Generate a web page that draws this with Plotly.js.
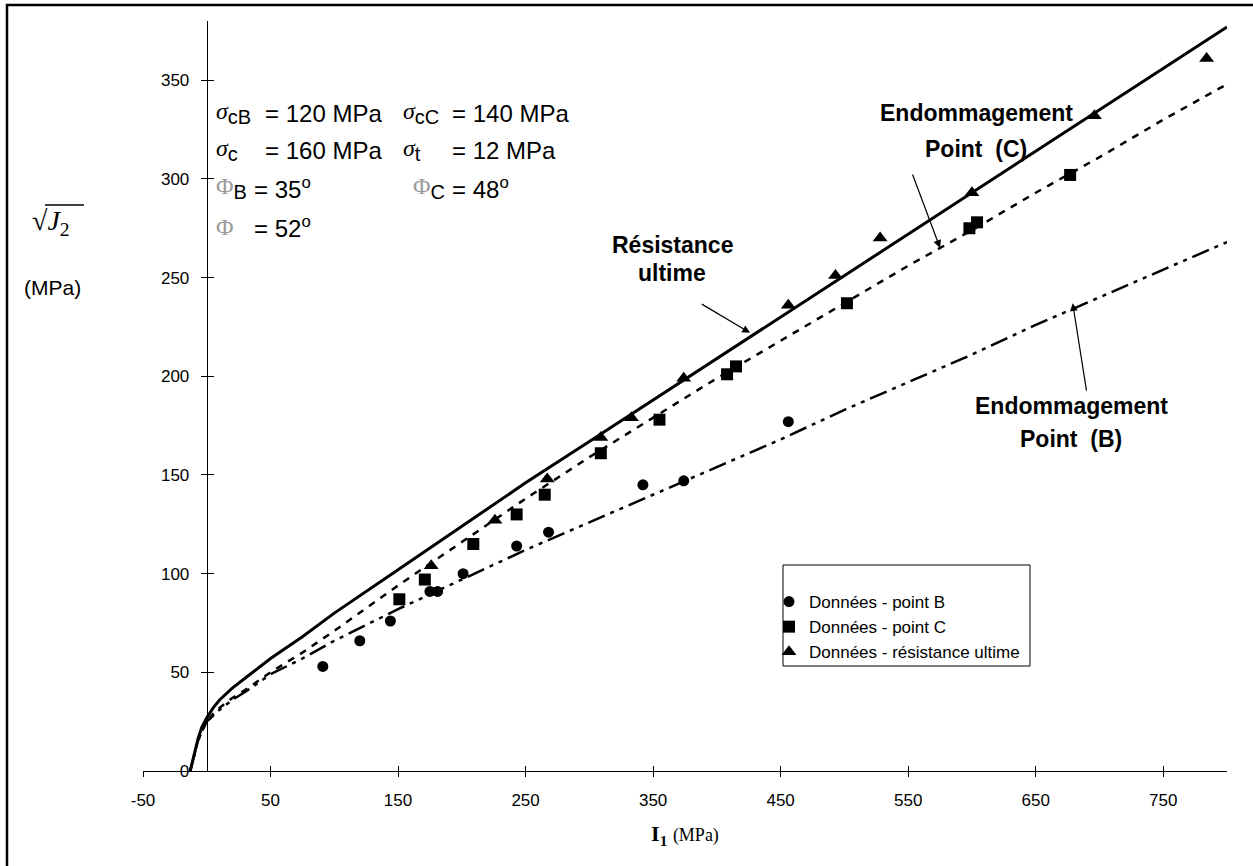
<!DOCTYPE html>
<html><head><meta charset="utf-8">
<script src="https://cdn.plot.ly/plotly-3.0.1.min.js"></script>
<style>html,body{margin:0;padding:0;background:#fff;}#chart{width:1253px;height:866px;}</style>
</head><body><div id="chart"></div>
<script>
// ---- data ----
const bX = [91,120,144,175,181,201,243,268,342,374,456];
const bY = [53,66,76,91,91,100,114,121,145,147,177];
const cX = [151,171,209,243,265,309,355,408,415,502,598,604,677];
const cY = [87,97,115,130,140,161,178,201,205,237,275,278,302];
const uX = [176,226,267,309,333,374,456,493,528,600,696,784];
const uY = [104,127,148,169,179,199,236,251,270,293,332,361];

const curveX  = [-13,-10,-7,-4,0,5,10,20,30,50,75,100,150,200,250,300,350,400,450,500,550,600,650,700,750,800];
const ultY    = [0,8,16,22,27,32,36,42,47,57,68,80,102,124,146,167,188,209,230,251,272,293,314,335,356,377];
const endCY   = [0,8,15,20,25,29,32,37,41,50,60,71,94,116,138,159,179,199,218,237,256,274,293,311,330,348];
const endBY   = [0,8,15,20,25,28,31,36,40,49,57,66,82,97,112,126,140,154,168,183,197,211,226,240,254,268];

const xTicks = [-50,50,150,250,350,450,550,650,750];
const yTicks = [0,50,100,150,200,250,300,350];
const legendNames = ['Données - point B','Données - point C','Données - résistance ultime'];

// ---- layout helpers (pixel -> paper) ----
const L=143, R=1227, T=21, B=771;
const px = v => (v-L)/(R-L);
const py = v => (B-v)/(B-T);
const SANS = 'Liberation Sans, Arial, sans-serif';
const SERIF = 'Liberation Serif, Times New Roman, serif';

const traces = [
  {x:curveX, y:ultY, mode:'lines', line:{color:'#000', width:3}, showlegend:false, hoverinfo:'skip'},
  {x:curveX, y:endCY, mode:'lines', line:{color:'#000', width:2.5, dash:'7px,7px'}, showlegend:false, hoverinfo:'skip'},
  {x:curveX, y:endBY, mode:'lines', line:{color:'#000', width:2.5, dash:'18px,6px,4px,6px,4px,6px'}, showlegend:false, hoverinfo:'skip'},
  {x:bX, y:bY, mode:'markers', name:legendNames[0], marker:{symbol:'circle', size:11, color:'#000'}},
  {x:cX, y:cY, mode:'markers', name:legendNames[1], marker:{symbol:'square', size:12, color:'#000'}},
  {x:uX, y:uY, mode:'markers', name:legendNames[2], marker:{symbol:'triangle-up', size:13, color:'#000'}},
  {x:[], y:[], xaxis:'x2', yaxis:'y2', showlegend:false, hoverinfo:'skip'}
];

const ann = [];
function txt(x, y, text, size, extra) {
  ann.push(Object.assign({xref:'paper', yref:'paper', x:px(x), y:py(y), xanchor:'left', yanchor:'middle',
    text:text, showarrow:false, font:{family:SANS, size:size, color:'#000'}}, extra||{}));
}
const sig = '<span style="font-family:Liberation Serif"><i>σ</i></span>';
const phi = '<span style="font-family:Liberation Serif;color:#9a9a9a">Φ</span>';
const sub = s => '<sub><span style="font-size:20px">' + s + '</span></sub>';
txt(214, 113, sig + sub('cB'), 24);
txt(263, 113, '= 120 MPa', 24);
txt(401, 113, sig + sub('cC'), 24);
txt(450, 113, '= 140 MPa', 24);
txt(214, 150, sig + sub('c'), 24);
txt(263, 150, '= 160 MPa', 24);
txt(401, 150, sig + sub('t'), 24);
txt(450, 150, '= 12 MPa', 24);
txt(214, 188, phi + sub('B'), 24);
txt(252, 188, '= 35<sup>o</sup>', 24);
txt(411, 188, phi + sub('C'), 24);
txt(450, 188, '= 48<sup>o</sup>', 24);
txt(214, 227, phi, 24);
txt(252, 227, '= 52<sup>o</sup>', 24);

// y axis title
txt(30, 222, '√<i>J</i><sub>2</sub>', 28, {font:{family:SERIF, size:28, color:'#000'}});
txt(22, 287, '(MPa)', 21);

// curve labels
function ctr(x, y, text) {
  ann.push({xref:'paper', yref:'paper', x:px(x), y:py(y), xanchor:'center', yanchor:'middle',
    text:text, showarrow:false, font:{family:SANS, size:23, color:'#000'}});
}
ctr(672, 245, '<b>Résistance</b>');
ctr(672, 273, '<b>ultime</b>');
ctr(976, 113, '<b>Endommagement</b>');
ctr(976, 149, '<b>Point  (C)</b>');
ctr(1071, 406, '<b>Endommagement</b>');
ctr(1071, 439, '<b>Point  (B)</b>');

// arrows (tip on curve, tail near label)
function arrow(tx, ty, ax, ay) {
  ann.push({x:tx, y:ty, xref:'x', yref:'y', ax:ax, ay:ay, axref:'x', ayref:'y', text:'',
    showarrow:true, arrowhead:2, arrowsize:1.3, arrowwidth:1.2, arrowcolor:'#000', font:{size:12}});
}
arrow(426, 222, 387, 237);
arrow(575, 265, 553, 303);
arrow(679, 237, 690, 192);

const layout = {
  width:1253, height:866,
  margin:{l:L, r:1253-R, t:T, b:866-B, pad:0},
  paper_bgcolor:'#fff', plot_bgcolor:'#fff',
  font:{family:SANS, size:17, color:'#000'},
  showlegend:true,
  legend:{x:px(769), y:py(584), xanchor:'left', yanchor:'top', bgcolor:'rgba(0,0,0,0)', borderwidth:0,
          font:{family:SANS, size:17, color:'#000'}, tracegroupgap:0},
  xaxis:{range:[-50,800], tickvals:xTicks, ticktext:xTicks.map(String), ticks:'outside', ticklen:5, tickwidth:1,
         tickcolor:'#000', showline:true, linecolor:'#000', linewidth:1, showgrid:false, zeroline:false,
         ticklabelstandoff:9, tickfont:{family:SANS, size:17},
         title:{text:'<b>I<sub>1</sub></b> <span style="font-size:18px">(MPa)</span>', standoff:16,
                font:{family:SERIF, size:22, color:'#000'}}},
  xaxis2:{overlaying:'x', anchor:'y', range:[-50,800], tickvals:xTicks, ticks:'inside', ticklen:5, tickwidth:1,
          tickcolor:'#000', showticklabels:false, showline:false, showgrid:false, zeroline:false},
  yaxis:{range:[0,380], tickvals:yTicks, ticktext:yTicks.map(String), anchor:'free', position:px(206.7),
         ticks:'outside', ticklen:6, tickwidth:1, tickcolor:'#000', showline:true, linecolor:'#000', linewidth:1,
         showgrid:false, zeroline:false, ticklabelstandoff:8, tickfont:{family:SANS, size:17}},
  yaxis2:{overlaying:'y', anchor:'free', position:px(206.7), range:[0,380], tickvals:yTicks, ticks:'inside',
          ticklen:6, tickwidth:1, tickcolor:'#000', showticklabels:false, showline:false, showgrid:false, zeroline:false},
  annotations:ann,
  shapes:[
    {type:'rect', xref:'paper', yref:'paper', x0:px(7), x1:px(1300), y0:py(5), y1:py(920), line:{color:'#000', width:2.5}},
    {type:'rect', xref:'paper', yref:'paper', x0:px(783), x1:px(1030), y0:py(565), y1:py(666), line:{color:'#000', width:1}},
    {type:'line', xref:'paper', yref:'paper', x0:px(45), x1:px(84), y0:py(205), y1:py(205), line:{color:'#000', width:1.5}}
  ]
};
Plotly.newPlot('chart', traces, layout, {displayModeBar:false, staticPlot:true});
</script></body></html>
